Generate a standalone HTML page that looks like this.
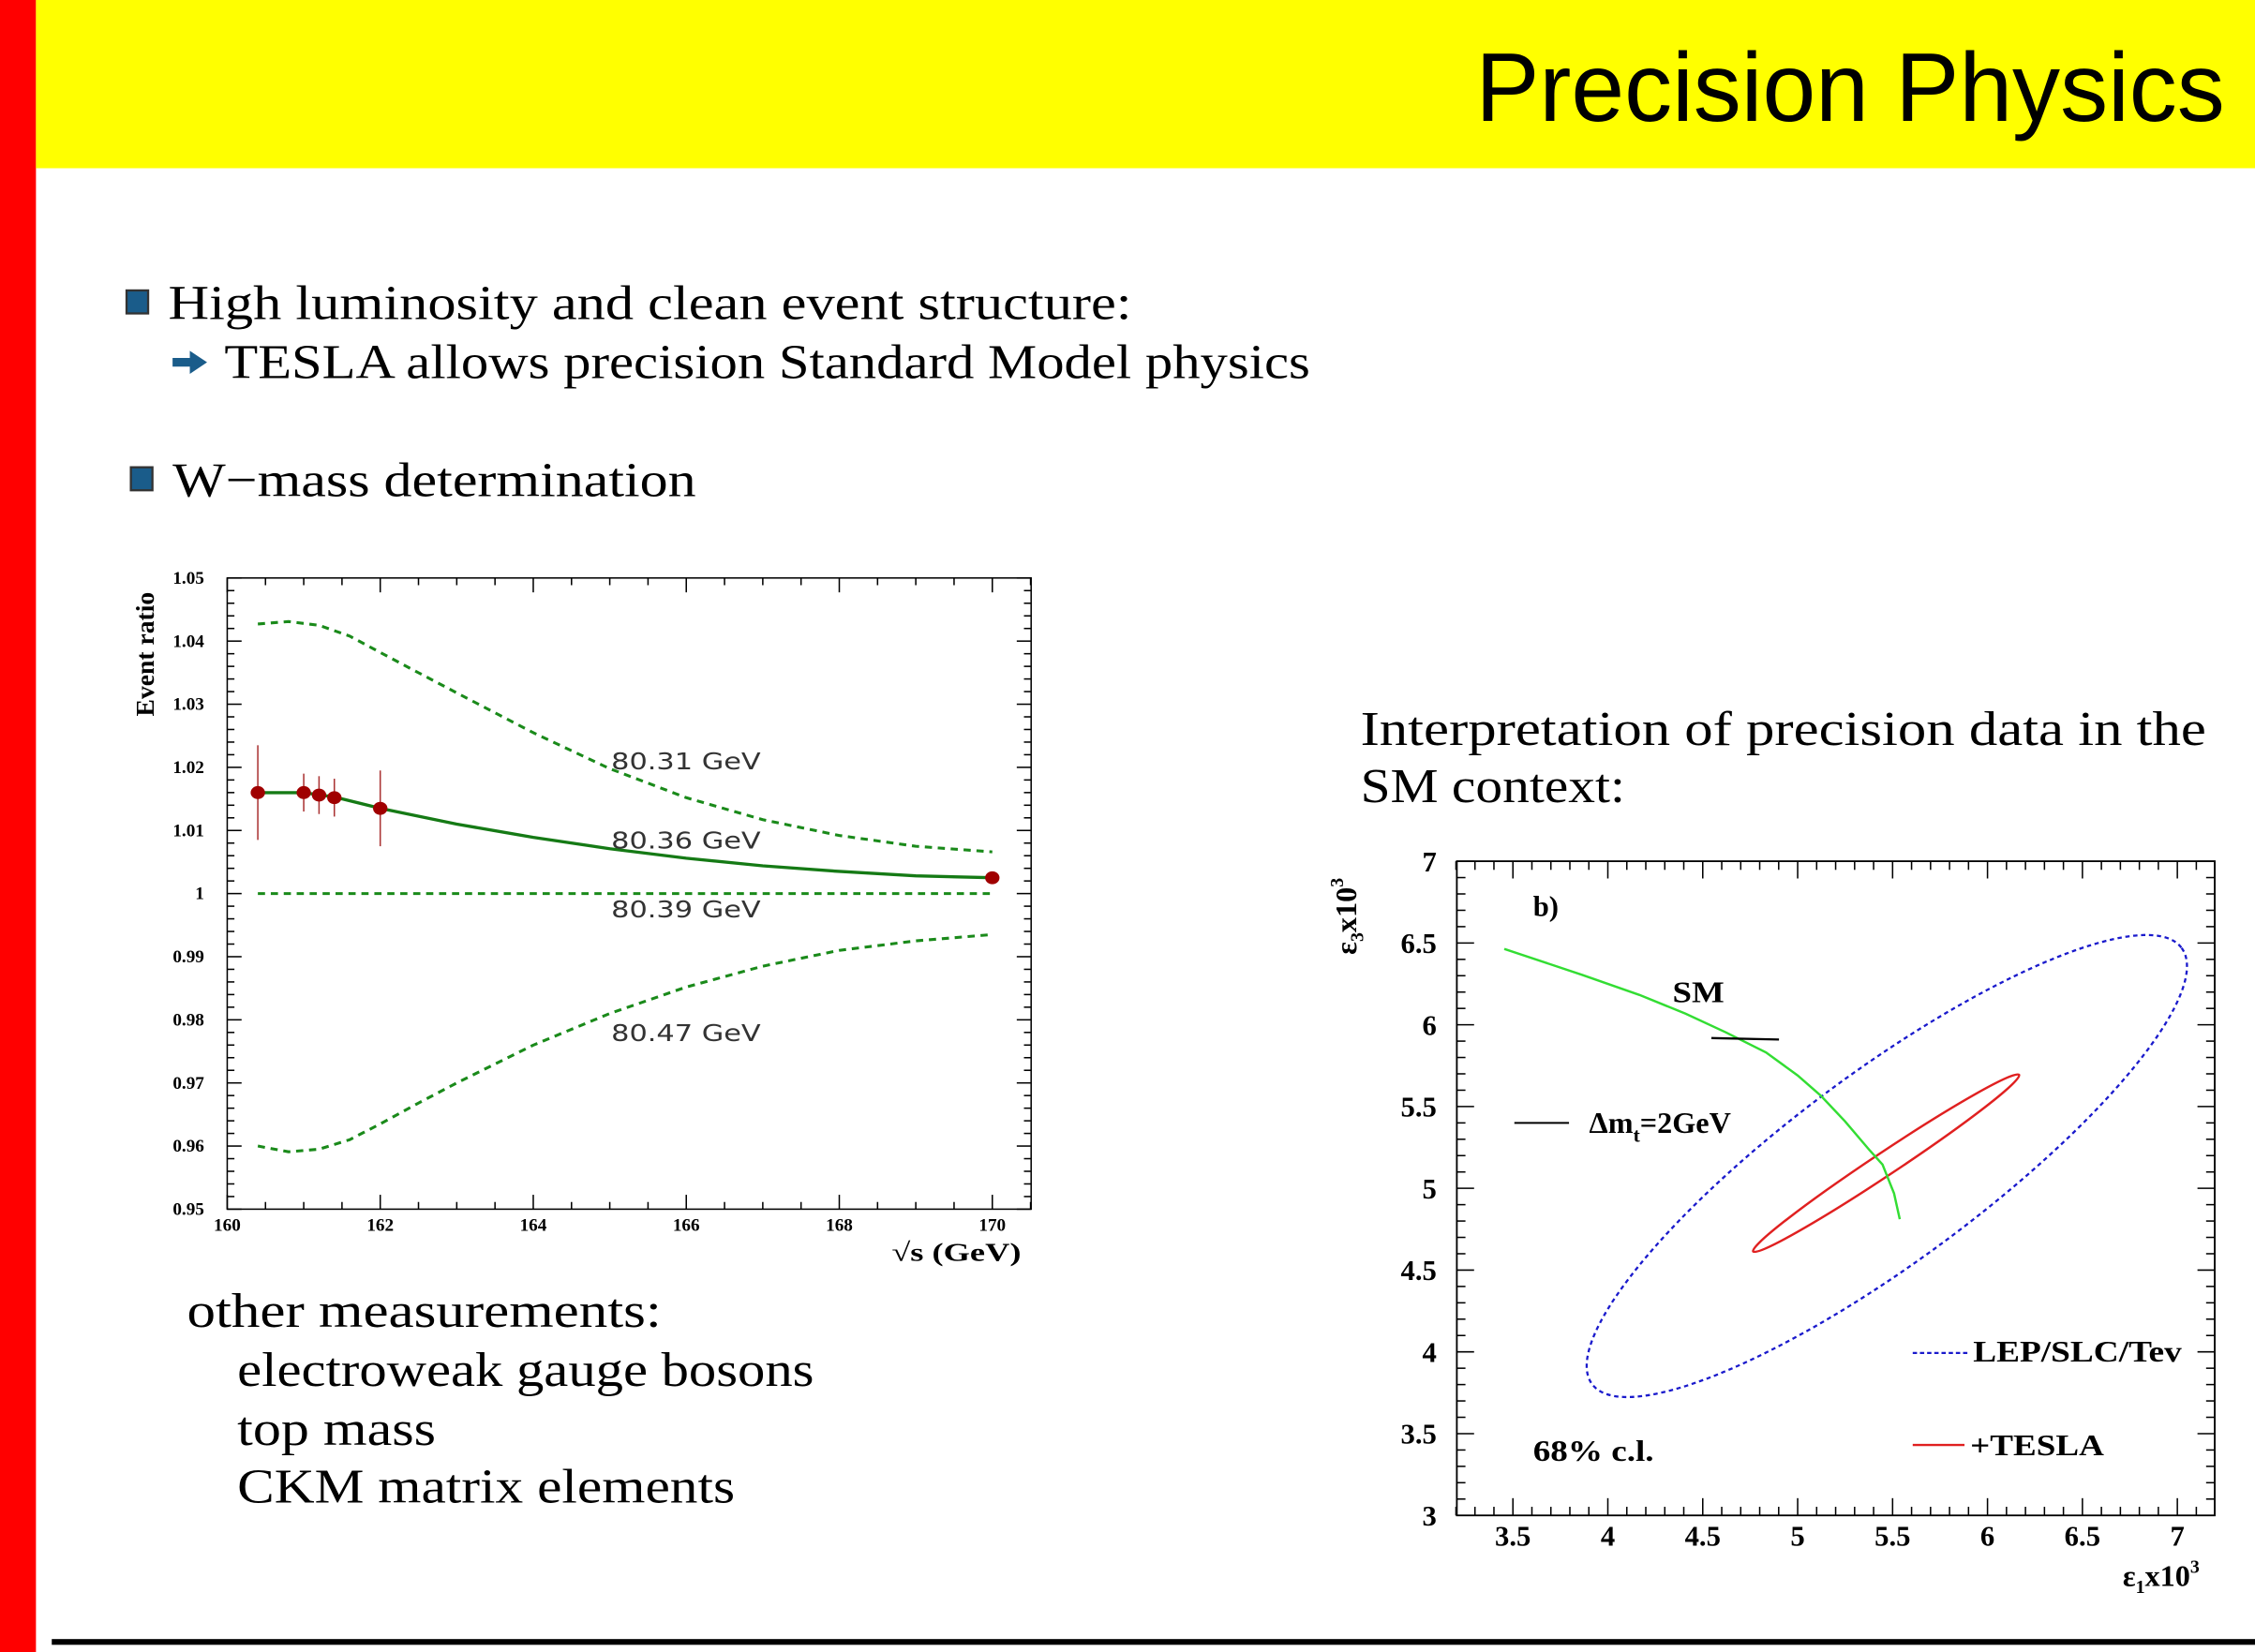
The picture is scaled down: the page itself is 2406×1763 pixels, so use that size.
<!DOCTYPE html>
<html><head><meta charset="utf-8"><style>
html,body{margin:0;padding:0;background:#fff;}
svg{display:block;}
.serif{font-family:"Liberation Serif",serif;}
</style></head><body>
<svg id="s" width="2406" height="1763" viewBox="0 0 1568 1149" preserveAspectRatio="none" xmlns="http://www.w3.org/2000/svg">
<rect x="0" y="0" width="1568" height="1149" fill="#fff"/>
<rect x="0" y="0" width="25" height="1149" fill="#ff0000"/>
<rect x="25" y="0" width="1543" height="117" fill="#ffff00"/>
<text x="1026" y="84" textLength="521" lengthAdjust="spacingAndGlyphs" font-family="Liberation Sans, sans-serif" font-size="68" fill="#000">Precision Physics</text>

<rect x="88" y="202" width="15" height="16" fill="#1a5c8a" stroke="#333" stroke-width="1.5"/>
<text x="117" y="222" class="serif" font-size="34" textLength="670" lengthAdjust="spacingAndGlyphs">High luminosity and clean event structure:</text>
<path d="M120 249 h12 v-5 l12 8 l-12 8 v-5 h-12z" fill="#1a5c8a"/>
<text x="156" y="263" class="serif" font-size="34" textLength="755" lengthAdjust="spacingAndGlyphs">TESLA allows precision Standard Model physics</text>
<rect x="91" y="325" width="15" height="16" fill="#1a5c8a" stroke="#333" stroke-width="1.5"/>
<text x="120" y="345" class="serif" font-size="34" textLength="364" lengthAdjust="spacingAndGlyphs">W−mass determination</text>

<text x="130" y="923" class="serif" font-size="34" textLength="330" lengthAdjust="spacingAndGlyphs">other measurements:</text>
<text x="165" y="964" class="serif" font-size="34" textLength="401" lengthAdjust="spacingAndGlyphs">electroweak gauge bosons</text>
<text x="165" y="1005" class="serif" font-size="34" textLength="138" lengthAdjust="spacingAndGlyphs">top mass</text>
<text x="165" y="1045" class="serif" font-size="34" textLength="346" lengthAdjust="spacingAndGlyphs">CKM matrix elements</text>

<text x="946" y="518" class="serif" font-size="34" textLength="588" lengthAdjust="spacingAndGlyphs">Interpretation of precision data in the</text>
<text x="946" y="558" class="serif" font-size="34" textLength="184" lengthAdjust="spacingAndGlyphs">SM context:</text>

<g id="left"></g>
<g id="right"></g>

<rect x="36" y="1140" width="1532" height="4" fill="#000"/>
</svg>
<script>
var NS="http://www.w3.org/2000/svg";
function el(p,t,a,txt){var e=document.createElementNS(NS,t);for(var k in a)e.setAttribute(k,a[k]);if(txt!==undefined)e.textContent=txt;p.appendChild(e);return e;}
var L=document.getElementById('left');
function X(v){return 158+(v-160)*53.2;}
function Y(v){return 841-(v-0.95)*4390;}
el(L,'rect',{x:158,y:402,width:559,height:439,fill:'none',stroke:'#000','stroke-width':1});
for(var v=160;v<=170.5;v+=0.5){var x=X(v);var big=(Math.round(v*2)%4==0);var len=big?10:5;
 el(L,'line',{x1:x,y1:841,x2:x,y2:841-len,stroke:'#000','stroke-width':1});
 el(L,'line',{x1:x,y1:402,x2:x,y2:402+len,stroke:'#000','stroke-width':1});}
for(var i=0;i<=50;i++){var v=0.95+i*0.002;var y=Y(v);var big=(i%5==0);var len=big?10:5;
 el(L,'line',{x1:158,y1:y,x2:158+len,y2:y,stroke:'#000','stroke-width':1});
 el(L,'line',{x1:717,y1:y,x2:717-len,y2:y,stroke:'#000','stroke-width':1});}
var yl=['0.95','0.96','0.97','0.98','0.99','1','1.01','1.02','1.03','1.04','1.05'];
for(var i=0;i<11;i++){el(L,'text',{x:142,y:Y(0.95+i*0.01)+4,'text-anchor':'end','font-family':'Liberation Serif,serif','font-size':12.5,'font-weight':'bold'},yl[i]);}
for(var v=160;v<=170;v+=2){el(L,'text',{x:X(v),y:856,'text-anchor':'middle','font-family':'Liberation Serif,serif','font-size':12.5,'font-weight':'bold'},String(v));}
el(L,'text',{x:620,y:877,textLength:90,lengthAdjust:'spacingAndGlyphs','font-family':'Liberation Serif,serif','font-size':18,'font-weight':'bold'},'\u221As (GeV)');
el(L,'text',{x:0,y:0,transform:'translate(107,455) rotate(-90)','text-anchor':'middle','font-family':'Liberation Serif,serif','font-size':18,'font-weight':'bold'},'Event ratio');
function path(pts){var d='';for(var i=0;i<pts.length;i++){d+=(i?'L':'M')+X(pts[i][0]).toFixed(1)+' '+Y(pts[i][1]).toFixed(1);}return d;}
var up=[[160.4,1.0427],[160.8,1.0431],[161.2,1.0425],[161.6,1.0408],[162,1.0382],[162.5,1.0350],[163,1.0318],[164,1.0255],[165,1.0198],[166,1.0152],[167,1.0117],[168,1.0092],[169,1.0075],[170,1.0066]];
var lo=[[160.4,0.9600],[160.8,0.9591],[161.2,0.9595],[161.6,0.9610],[162,0.9635],[162.5,0.9668],[163,0.9700],[164,0.9760],[165,0.9810],[166,0.9852],[167,0.9885],[168,0.9910],[169,0.9925],[170,0.9935]];
var mid=[[160.4,1.0160],[161,1.0160],[161.4,1.0153],[162,1.0135],[163,1.0110],[164,1.0089],[165,1.0071],[166,1.0056],[167,1.0044],[168,1.0035],[169,1.0028],[170,1.0025]];
el(L,'path',{d:path(up),fill:'none',stroke:'#1a8a1a','stroke-width':2,'stroke-dasharray':'5,4'});
el(L,'path',{d:path(lo),fill:'none',stroke:'#1a8a1a','stroke-width':2,'stroke-dasharray':'5,4'});
el(L,'path',{d:path([[160.4,1],[170,1]]),fill:'none',stroke:'#1a8a1a','stroke-width':2,'stroke-dasharray':'5,4'});
el(L,'path',{d:path(mid),fill:'none',stroke:'#157a15','stroke-width':2.2});
var pts=[[160.4,1.016,0.0075],[161,1.016,0.003],[161.2,1.0156,0.003],[161.4,1.0152,0.003],[162,1.0135,0.006],[170,1.0025,0]];
pts.forEach(function(p){if(p[2])el(L,'line',{x1:X(p[0]),y1:Y(p[1]+p[2]),x2:X(p[0]),y2:Y(p[1]-p[2]),stroke:'#a33','stroke-width':1});
 el(L,'ellipse',{cx:X(p[0]),cy:Y(p[1]),rx:5,ry:4.5,fill:'#a00000'});});
var lab=[['80.31 GeV',535],['80.36 GeV',590],['80.39 GeV',638],['80.47 GeV',724]];
lab.forEach(function(l){el(L,'text',{x:425,y:l[1],textLength:104,lengthAdjust:'spacingAndGlyphs','font-family':'DejaVu Sans,sans-serif','font-size':16,fill:'#333'},l[0]);});
var R=document.getElementById('right');
function RX(v){return 1052+(v-3.5)*132;}
function RY(v){return 1054-(v-3)*113.75;}
el(R,'rect',{x:1013,y:599,width:527,height:455,fill:'none',stroke:'#000','stroke-width':1.2});
for(var i=0;i<=40;i++){var v=3.2+i*0.1;var x=RX(v);if(x>1540)break;var big=(Math.abs(v*2-Math.round(v*2))<1e-6);var len=big?12:6;
 el(R,'line',{x1:x,y1:1054,x2:x,y2:1054-len,stroke:'#000','stroke-width':1});
 el(R,'line',{x1:x,y1:599,x2:x,y2:599+len,stroke:'#000','stroke-width':1});}
for(var i=0;i<=40;i++){var v=3+i*0.1;var y=RY(v);var big=(i%5==0);var len=big?12:6;
 el(R,'line',{x1:1013,y1:y,x2:1013+len,y2:y,stroke:'#000','stroke-width':1});
 el(R,'line',{x1:1540,y1:y,x2:1540-len,y2:y,stroke:'#000','stroke-width':1});}
var F='Liberation Serif,serif';
var ryl=['3','3.5','4','4.5','5','5.5','6','6.5','7'];
for(var i=0;i<9;i++){el(R,'text',{x:999,y:RY(3+i*0.5)+7,'text-anchor':'end','font-family':F,'font-size':20,'font-weight':'bold'},ryl[i]);}
var rxl=['3.5','4','4.5','5','5.5','6','6.5','7'];
for(var i=0;i<8;i++){el(R,'text',{x:RX(3.5+i*0.5),y:1075,'text-anchor':'middle','font-family':F,'font-size':20,'font-weight':'bold'},rxl[i]);}
var t=el(R,'text',{x:1476,y:1103,'font-family':F,'font-size':21,'font-weight':'bold'});
t.innerHTML='ε<tspan font-size="13" dy="5">1</tspan><tspan dy="-5">x10</tspan><tspan font-size="13" dy="-9">3</tspan>';
var t2=el(R,'text',{transform:'translate(943,664) rotate(-90)','font-family':F,'font-size':21,'font-weight':'bold'});
t2.innerHTML='ε<tspan font-size="13" dy="5">3</tspan><tspan dy="-5">x10</tspan><tspan font-size="13" dy="-9">3</tspan>';
el(R,'ellipse',{cx:1312,cy:811,rx:255,ry:66,transform:'rotate(-36.5 1312 811)',fill:'none',stroke:'#1a1acc','stroke-width':1.5,'stroke-dasharray':'3,2.5'});
el(R,'ellipse',{cx:1311.5,cy:809,rx:111,ry:8,transform:'rotate(-33.6 1311.5 809)',fill:'none',stroke:'#e02020','stroke-width':1.6});
el(R,'path',{d:'M1046 660 L1100 678 L1140 692 L1172 705 L1200 718 L1228 732 L1250 748 L1266 762 L1283 780 L1300 800 L1309 810 L1317 830 L1321 848',fill:'none',stroke:'#33dd33','stroke-width':1.6});
el(R,'line',{x1:1190,y1:722,x2:1237,y2:723,stroke:'#000','stroke-width':1.5});
el(R,'text',{x:1163,y:697,textLength:36,lengthAdjust:'spacingAndGlyphs','font-family':F,'font-size':21,'font-weight':'bold'},'SM');
el(R,'text',{x:1066,y:637,'font-family':F,'font-size':20,'font-weight':'bold'},'b)');
el(R,'line',{x1:1053,y1:781,x2:1091,y2:781,stroke:'#000','stroke-width':1.3});
var t3=el(R,'text',{x:1105,y:788,'font-family':F,'font-size':21,'font-weight':'bold'});
t3.innerHTML='Δm<tspan font-size="14" dy="6">t</tspan><tspan dy="-6">=2GeV</tspan>';
el(R,'text',{x:1066,y:1016,textLength:84,lengthAdjust:'spacingAndGlyphs','font-family':F,'font-size':21,'font-weight':'bold'},'68% c.l.');
el(R,'line',{x1:1330,y1:941,x2:1368,y2:941,stroke:'#1a1acc','stroke-width':1.5,'stroke-dasharray':'3,2'});
el(R,'text',{x:1372,y:947,textLength:145,lengthAdjust:'spacingAndGlyphs','font-family':F,'font-size':21,'font-weight':'bold'},'LEP/SLC/Tev');
el(R,'line',{x1:1330,y1:1005,x2:1366,y2:1005,stroke:'#e02020','stroke-width':1.5});
el(R,'text',{x:1370,y:1012,textLength:93,lengthAdjust:'spacingAndGlyphs','font-family':F,'font-size':21,'font-weight':'bold'},'+TESLA');
</script>
</body></html>
